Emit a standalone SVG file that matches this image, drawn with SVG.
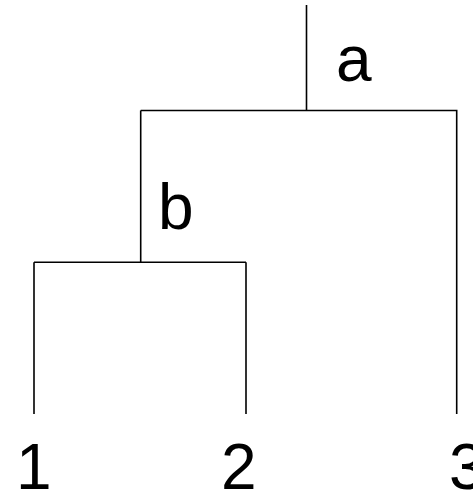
<svg xmlns="http://www.w3.org/2000/svg" width="473" height="490" viewBox="0 0 473 490">
<style>
.c{fill:none;stroke:#000;stroke-width:1.6;stroke-linecap:butt}
.t{font-family:"Liberation Sans",Arial,sans-serif;font-size:64px;fill:#000}
</style>
<rect width="473" height="490" fill="#fff"/>
<g id="connectors">
<path class="c" d="M306.5 5V110.5M140.7 110.5H456.7V414M140.7 110.5V262.3M34 262.3H246M34 262.3V414M246 262.3V414"/>
</g>
<g id="node-a"><text class="t" x="336" y="81">a</text></g>
<g id="node-b"><text class="t" x="158" y="229">b</text></g>
<g id="node-1"><text class="t" x="16" y="489">1</text></g>
<g id="node-2"><text class="t" x="221" y="489">2</text></g>
<g id="node-3"><text class="t" x="449" y="489">3</text></g>
</svg>
